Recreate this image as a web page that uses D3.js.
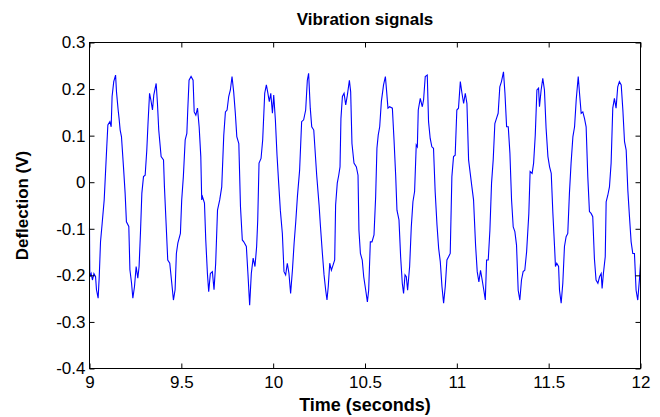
<!DOCTYPE html>
<html>
<head>
<meta charset="utf-8">
<title>Vibration signals</title>
<script src="https://cdn.jsdelivr.net/npm/d3@7"></script>
<style>
	html, body {
		margin: 0;
		padding: 0;
		background: #fff;
	}
	svg {
		display: block;
		font-family: 'Liberation Sans', Arial, Helvetica, sans-serif;
	}
	.axis text {
		font-size: 17px;
		fill: #000;
	}
	.axis line {
		stroke: #000;
	}
	.label {
		font-size: 17px;
		font-weight: bold;
		fill: #000;
	}
	.label--x {
		font-size: 18px;
	}
</style>
</head>
<body>
<svg id="chart" width="660" height="417"></svg>
<script>
// time of each sample, seconds
const timeValues = [
	9.000, 9.001, 9.002, 9.009, 9.016, 9.024, 9.033, 9.038, 9.047, 9.053,
	9.060, 9.069, 9.080, 9.087, 9.094, 9.100, 9.111, 9.118, 9.123, 9.132,
	9.142, 9.147, 9.156, 9.161, 9.167, 9.174, 9.185, 9.194, 9.201, 9.214,
	9.220, 9.229, 9.236, 9.245, 9.254, 9.263, 9.270, 9.278, 9.285, 9.294,
	9.303, 9.312, 9.319, 9.327, 9.334, 9.343, 9.350, 9.363, 9.370, 9.377,
	9.390, 9.403, 9.408, 9.417, 9.426, 9.437, 9.448, 9.457, 9.466, 9.473,
	9.481, 9.495, 9.502, 9.511, 9.521, 9.530, 9.535, 9.542, 9.553, 9.564,
	9.570, 9.579, 9.588, 9.597, 9.606, 9.611,
	9.615, 9.626, 9.633, 9.642, 9.649, 9.658, 9.669, 9.678, 9.687, 9.697,
	9.709, 9.720, 9.731, 9.740, 9.749, 9.758, 9.767, 9.776, 9.785, 9.794,
	9.802, 9.813, 9.822, 9.832, 9.840, 9.854, 9.863, 9.872, 9.881, 9.891,
	9.901, 9.910, 9.916, 9.923, 9.934, 9.943, 9.954, 9.963, 9.970, 9.979,
	9.987, 9.996, 10.003, 10.012, 10.021, 10.030, 10.039, 10.050, 10.059, 10.068,
	10.077, 10.086, 10.095, 10.105, 10.114, 10.123, 10.132, 10.144, 10.155, 10.166,
	10.177, 10.186, 10.193, 10.202, 10.210,
	10.221, 10.237, 10.250, 10.257, 10.268, 10.277, 10.286, 10.293, 10.300, 10.308,
	10.317, 10.326, 10.335, 10.340, 10.349, 10.357, 10.364, 10.369, 10.377, 10.386,
	10.395, 10.404, 10.415, 10.422, 10.429, 10.440, 10.453, 10.462, 10.467, 10.475,
	10.485, 10.493, 10.504, 10.513, 10.520, 10.529, 10.538, 10.549, 10.558, 10.565,
	10.572, 10.580, 10.589, 10.601, 10.611, 10.618, 10.625, 10.634, 10.649, 10.658,
	10.667, 10.674, 10.685, 10.694, 10.703, 10.710, 10.718, 10.725, 10.732, 10.743,
	10.752, 10.761, 10.770, 10.779,
	10.785, 10.790, 10.801, 10.812, 10.819, 10.828, 10.839, 10.846, 10.855, 10.864,
	10.873, 10.882, 10.892, 10.901, 10.910, 10.919, 10.928, 10.937, 10.946, 10.955,
	10.964, 10.973, 10.982, 10.991, 11.000, 11.009, 11.019, 11.028, 11.037, 11.046,
	11.055, 11.064, 11.073, 11.082, 11.091, 11.102, 11.111, 11.120, 11.129, 11.138,
	11.147, 11.155, 11.162, 11.171, 11.180, 11.189, 11.198, 11.207, 11.216, 11.225,
	11.234, 11.243, 11.254, 11.262, 11.271, 11.280, 11.289, 11.298, 11.307, 11.316,
	11.325, 11.334, 11.343, 11.352, 11.361, 11.370, 11.380,
	11.392, 11.399, 11.410, 11.418, 11.427, 11.436, 11.445, 11.450, 11.459, 11.468,
	11.477, 11.486, 11.496, 11.505, 11.514, 11.523, 11.532, 11.537, 11.544, 11.554,
	11.559, 11.568, 11.577, 11.586, 11.595, 11.604, 11.613, 11.622, 11.632, 11.641,
	11.650, 11.661, 11.668, 11.677, 11.686, 11.695, 11.704, 11.713, 11.722, 11.731,
	11.740, 11.749, 11.758, 11.768, 11.777, 11.786, 11.791, 11.798, 11.808, 11.813,
	11.822, 11.831, 11.840, 11.849, 11.858, 11.867, 11.876, 11.885, 11.895, 11.904,
	11.913, 11.922, 11.931, 11.940, 11.949, 11.958, 11.967, 11.976, 11.985, 11.994, 12.000
];

// deflection of each sample, volts
const deflectionValues = [
	-0.099, -0.160, -0.203, -0.196, -0.210, -0.196, -0.203, -0.231, -0.249, -0.203,
	-0.128, -0.088, -0.038, 0.019, 0.076, 0.123, 0.130, 0.119, 0.184, 0.216,
	0.230, 0.194, 0.155, 0.137, 0.112, 0.098, 0.033, -0.024, -0.085, -0.095,
	-0.188, -0.217, -0.249, -0.224, -0.181, -0.206, -0.181, -0.103, -0.024, 0.012,
	0.015, 0.069, 0.130, 0.191, 0.177, 0.155, 0.187, 0.212, 0.169, 0.112,
	0.055, 0.048, -0.010, -0.088, -0.167, -0.174, -0.217, -0.253, -0.231, -0.153,
	-0.131, -0.110, -0.038, 0.012, 0.091, 0.105, 0.155, 0.219, 0.227, 0.219,
	0.151, 0.144, 0.159, 0.119, 0.055, -0.038,
	-0.031, -0.045, -0.124, -0.196, -0.235, -0.196, -0.192, -0.231, -0.174, -0.060,
	-0.038, -0.010, 0.101, 0.151, 0.155, 0.184, 0.198, 0.227, 0.194, 0.148,
	0.098, 0.083, -0.052, -0.124, -0.128, -0.138, -0.199, -0.264, -0.196, -0.163,
	-0.181, -0.138, -0.081, 0.041, 0.051, 0.091, 0.191, 0.209, 0.194, 0.173,
	0.191, 0.148, 0.187, 0.134, 0.058, -0.002, -0.060, -0.110, -0.192, -0.199,
	-0.174, -0.196, -0.239, -0.188, -0.131, -0.085, -0.031, 0.026, 0.130, 0.134,
	0.155, 0.219, 0.234, 0.159, 0.119,
	0.112, 0.015, -0.049, -0.092, -0.153, -0.199, -0.232, -0.253, -0.224, -0.174,
	-0.189, -0.178, -0.167, -0.049, -0.002, 0.015, 0.033, 0.137, 0.184, 0.191,
	0.166, 0.187, 0.219, 0.194, 0.083, 0.041, 0.033, 0.015, -0.103, -0.153,
	-0.167, -0.203, -0.232, -0.257, -0.232, -0.128, -0.128, -0.113, -0.031, 0.073,
	0.101, 0.119, 0.173, 0.209, 0.227, 0.194, 0.159, 0.162, 0.159, 0.091,
	0.015, -0.060, -0.081, -0.160, -0.217, -0.239, -0.199, -0.203, -0.232, -0.181,
	-0.096, -0.042, -0.020, 0.080,
	0.076, 0.155, 0.180, 0.162, 0.177, 0.227, 0.230, 0.130, 0.094, 0.076,
	0.073, -0.020, -0.092, -0.142, -0.171, -0.224, -0.260, -0.224, -0.167, -0.160,
	-0.153, 0.012, 0.055, 0.058, 0.155, 0.159, 0.216, 0.191, 0.169, 0.191,
	0.169, 0.048, 0.019, -0.010, -0.038, -0.135, -0.192, -0.214, -0.189, -0.210,
	-0.232, -0.253, -0.167, -0.167, -0.103, -0.002, 0.048, 0.126, 0.137, 0.148,
	0.205, 0.216, 0.237, 0.191, 0.119, 0.119, 0.062, -0.038, -0.096, -0.106,
	-0.135, -0.232, -0.253, -0.210, -0.192, -0.189, -0.149,
	-0.067, 0.023, 0.019, 0.041, 0.101, 0.198, 0.202, 0.162, 0.198, 0.223,
	0.198, 0.116, 0.055, 0.033, 0.019, -0.067, -0.138, -0.181, -0.174, -0.181,
	-0.232, -0.260, -0.217, -0.138, -0.117, -0.110, -0.024, 0.041, 0.098, 0.119,
	0.177, 0.227, 0.191, 0.148, 0.151, 0.137, 0.119, 0.012, -0.063, -0.067,
	-0.074, -0.164, -0.210, -0.217, -0.203, -0.196, -0.228, -0.196, -0.160, -0.042,
	-0.028, -0.010, 0.041, 0.159, 0.180, 0.159, 0.205, 0.216, 0.209, 0.155,
	0.087, 0.069, -0.017, -0.074, -0.128, -0.153, -0.153, -0.232, -0.253, -0.210, -0.174
];

const xTickValues = [9, 9.5, 10, 10.5, 11, 11.5, 12];
const yTickValues = [-0.4, -0.3, -0.2, -0.1, 0, 0.1, 0.2, 0.3];

const titleText = 'Vibration signals',
	xLabelText = 'Time (seconds)',
	yLabelText = 'Deflection (V)';

(function() {

	'use strict';

	var svg = d3.select('#chart'),
		margin = {top: 42.5, right: 19.5, bottom: 48.5, left: 89.5},
		width = 660 - margin.left - margin.right,
		height = 417 - margin.top - margin.bottom,
		tickLength = 5;

	// matlab style: ticks point inwards on all four sides of the box
	var xScale = d3.scaleLinear()
		.domain([9, 12])
		.range([0, width]);

	var yScale = d3.scaleLinear()
		.domain([-0.4, 0.3])
		.range([height, 0]);

	var plot = svg.append('g')
		.attr('transform', 'translate(' + margin.left + ',' + margin.top + ')');

	/**
	* draw the four axes (only bottom and left get labels)
	* @returns {undefined}
	*/
	const drawAxes = function() {
		let fmt = function(d) { return String(d); };

		plot.append('g')
			.attr('class', 'axis axis--x')
			.attr('transform', 'translate(0,' + height + ')')
			.call(d3.axisBottom(xScale).tickValues(xTickValues).tickFormat(fmt)
				.tickSizeInner(-tickLength).tickSizeOuter(0).tickPadding(7));

		plot.append('g')
			.attr('class', 'axis axis--x2')
			.call(d3.axisTop(xScale).tickValues(xTickValues).tickFormat('')
				.tickSizeInner(-tickLength).tickSizeOuter(0));

		plot.append('g')
			.attr('class', 'axis axis--y')
			.call(d3.axisLeft(yScale).tickValues(yTickValues).tickFormat(fmt)
				.tickSizeInner(-tickLength).tickSizeOuter(0).tickPadding(4));

		plot.append('g')
			.attr('class', 'axis axis--y2')
			.attr('transform', 'translate(' + width + ',0)')
			.call(d3.axisRight(yScale).tickValues(yTickValues).tickFormat('')
				.tickSizeInner(-tickLength).tickSizeOuter(0));

		plot.selectAll('.axis .domain').remove();
		plot.selectAll('.axis text').attr('font-family', null).attr('font-size', null);

		// box around the plot area
		plot.append('rect')
			.attr('width', width)
			.attr('height', height)
			.attr('fill', 'none')
			.attr('stroke', '#000')
			.attr('stroke-width', 1);
	};

	/**
	* draw the signal line
	* @returns {undefined}
	*/
	const drawSignal = function() {
		let samples = d3.zip(timeValues, deflectionValues);

		let line = d3.line()
			.x(function(d) { return xScale(d[0]); })
			.y(function(d) { return yScale(d[1]); });

		plot.append('path')
			.datum(samples)
			.attr('d', line)
			.attr('fill', 'none')
			.attr('stroke', '#0000ff')
			.attr('stroke-width', 1.1)
			.attr('stroke-linejoin', 'miter');
	};

	/**
	* title and axis labels
	* @returns {undefined}
	*/
	const drawLabels = function() {
		svg.append('text')
			.attr('class', 'label')
			.attr('x', margin.left + width / 2)
			.attr('y', 25)
			.attr('text-anchor', 'middle')
			.text(titleText);

		svg.append('text')
			.attr('class', 'label label--x')
			.attr('x', margin.left + width / 2)
			.attr('y', 411)
			.attr('text-anchor', 'middle')
			.text(xLabelText);

		svg.append('text')
			.attr('class', 'label')
			.attr('transform', 'translate(28,' + (margin.top + height / 2) + ') rotate(-90)')
			.attr('text-anchor', 'middle')
			.text(yLabelText);
	};

	drawSignal();
	drawAxes();
	drawLabels();

})();
</script>
</body>
</html>
